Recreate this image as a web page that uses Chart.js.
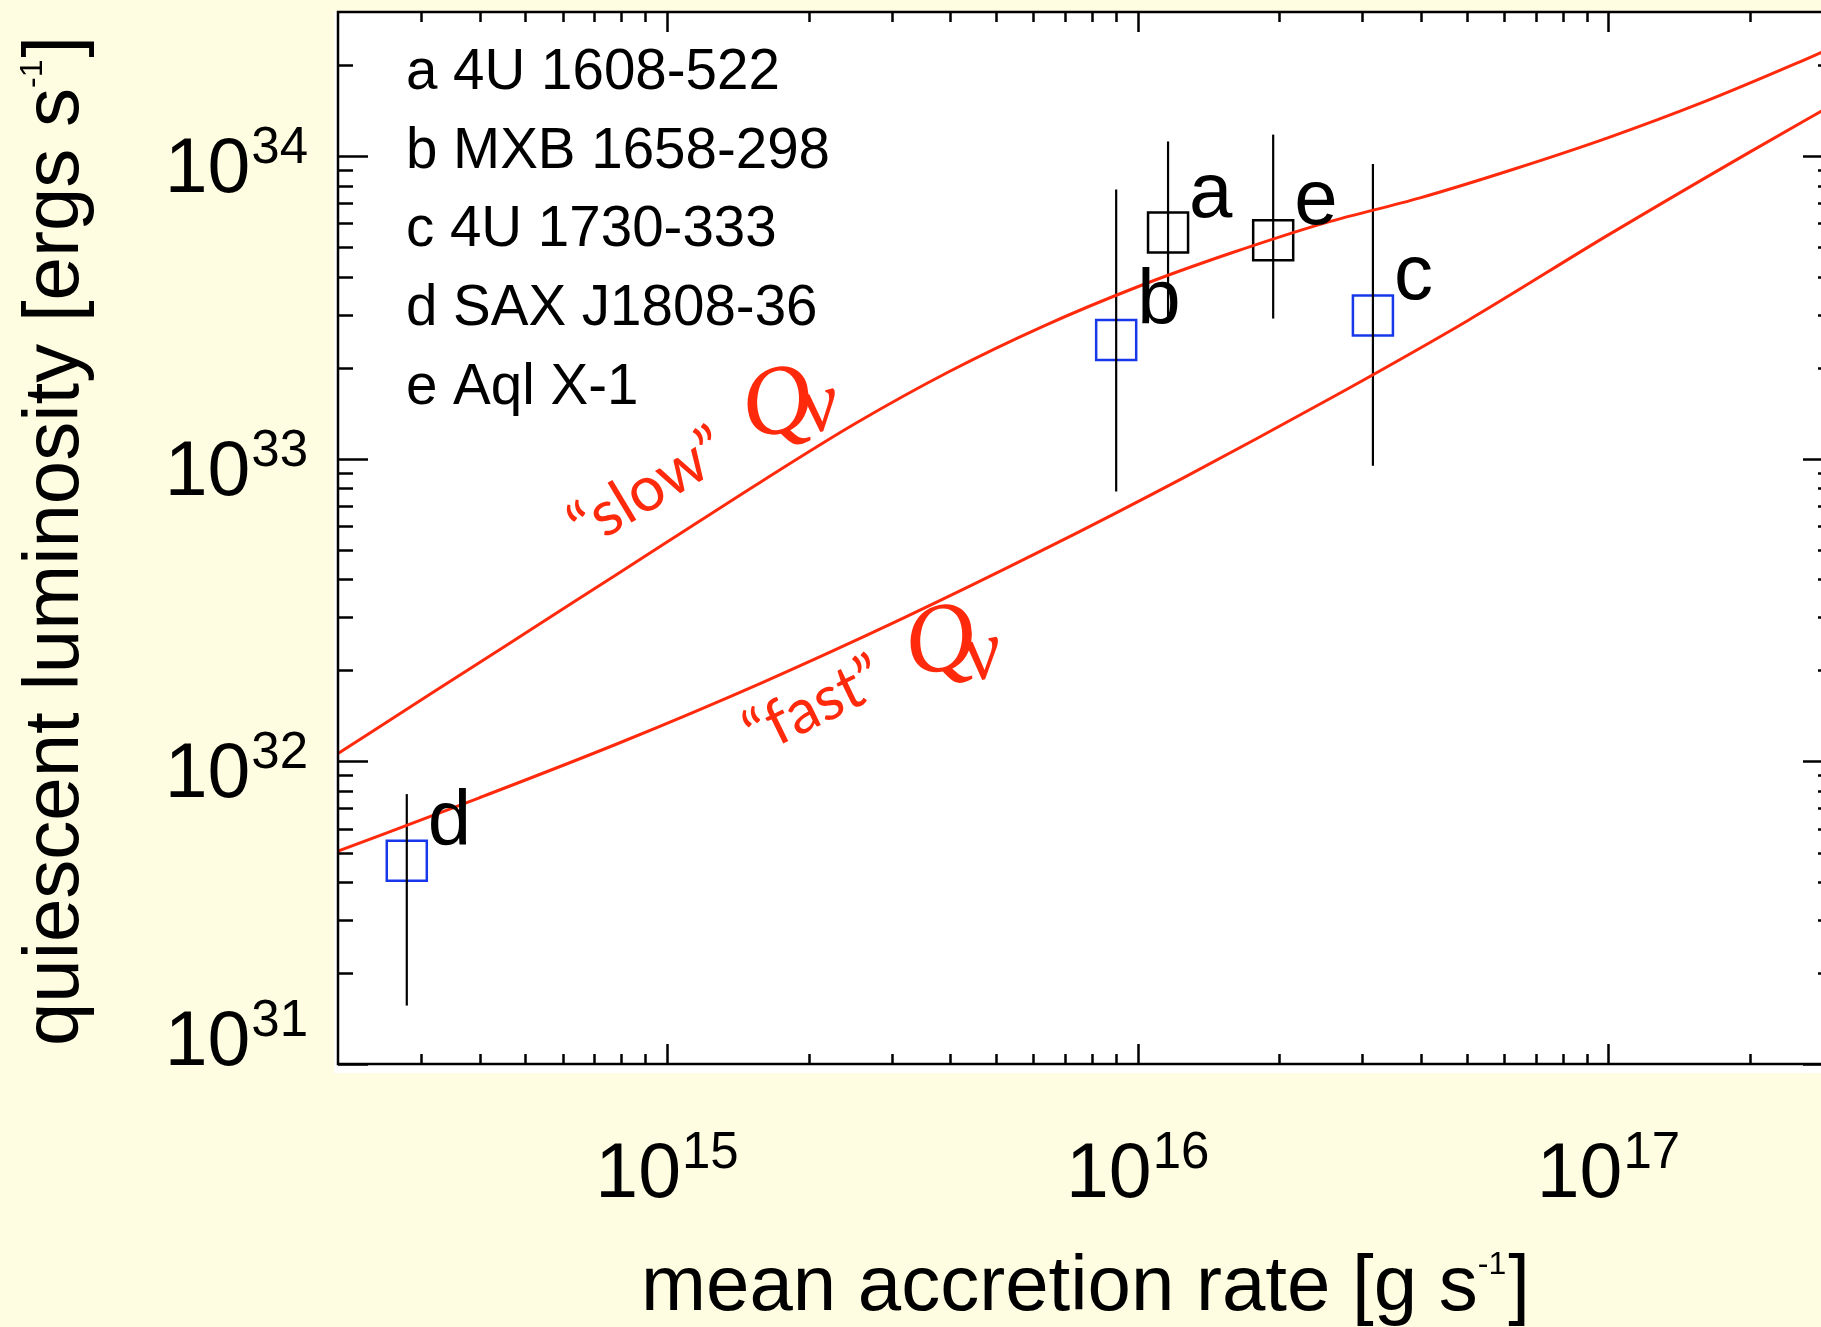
<!DOCTYPE html>
<html>
<head>
<meta charset="utf-8">
<script src="https://cdn.jsdelivr.net/npm/chart.js@4/dist/chart.umd.min.js"></script>
<style>
  html, body { margin: 0; padding: 0; overflow: hidden; background: #fffde1; }
  #wrap { position: absolute; left: 0; top: 0; width: 1850px; height: 1327px; }
</style>
</head>
<body>
<div id="wrap"><canvas id="c" width="1850" height="1327"></canvas></div>
<script>
// Cooling curves: quiescent luminosity [erg/s] vs. mean accretion rate [g/s]
const slowRate = [2.0e14, 3.16e14, 6.31e14, 1.0e15, 1.585e15, 2.512e15, 3.98e15, 6.31e15, 1.0e16, 1.585e16, 2.512e16, 3.98e16, 6.31e16, 1.0e17, 1.585e17, 2.512e17, 3.0e17];
const slowLum  = [1.062e32, 1.679e32, 3.35e32, 5.31e32, 8.41e32, 1.309e33, 1.945e33, 2.748e33, 3.707e33, 4.80e33, 6.04e33, 7.29e33, 9.08e33, 1.153e34, 1.507e34, 2.032e34, 2.296e34];

const fastRate = [2.0e14, 3.98e14, 7.94e14, 1.585e15, 3.16e15, 6.31e15, 1.259e16, 2.512e16, 5.01e16, 1.0e17, 2.0e17, 3.0e17];
const fastLum  = [5.05e31, 7.57e31, 1.153e32, 1.816e32, 2.965e32, 5.01e32, 8.71e32, 1.556e33, 2.858e33, 5.50e33, 1.035e34, 1.483e34];

// Observed transients
const srcTags  = ['a', 'b', 'c', 'd', 'e'];
const srcNames = ['4U 1608-522', 'MXB 1658-298', '4U 1730-333', 'SAX J1808-36', 'Aql X-1'];
const srcRate  = [1.16e16, 9.0e15, 3.16e16, 2.8e14, 1.94e16];
const srcLum   = [5.6e33, 2.47e33, 2.98e33, 4.7e31, 5.28e33];
const srcLumLo = [2.91e33, 7.8e32, 9.5e32, 1.56e31, 2.91e33];
const srcLumHi = [1.12e34, 7.77e33, 9.44e33, 7.8e31, 1.18e34];
const srcBlue  = [false, true, true, true, false];

// Axes
const xRange = [2e14, 3e17];
const yRange = [1e31, 3e34];
const xTickMajor = [1e15, 1e16, 1e17];
const yTickMajor = [1e31, 1e32, 1e33, 1e34];

const RED = '#ff2a0c';
const BLUE = '#1638ea';
const INK = '#000000';
const SANS = '"Liberation Sans", Arial, Helvetica, sans-serif';

function minorTicks(lo, hi) {
  const out = [];
  for (let e = Math.floor(Math.log10(lo)); e <= Math.ceil(Math.log10(hi)); e++) {
    for (let k = 2; k <= 9; k++) {
      const v = k * Math.pow(10, e);
      if (v > lo * 1.0001 && v < hi * 0.9999) out.push(v);
    }
  }
  return out;
}

// "10" with a raised exponent; align is 'center' or 'right'
function drawPower(ctx, exp, x, baseY, align) {
  ctx.font = '77px ' + SANS;
  const w1 = ctx.measureText('10').width;
  ctx.font = '51px ' + SANS;
  const w2 = ctx.measureText(String(exp)).width;
  const total = w1 + 1 + w2;
  const left = align === 'right' ? x - total : x - total / 2;
  ctx.textAlign = 'left';
  ctx.textBaseline = 'alphabetic';
  ctx.font = '77px ' + SANS;
  ctx.fillText('10', left, baseY);
  ctx.font = '51px ' + SANS;
  ctx.fillText(String(exp), left + w1 + 1, baseY - 29);
}

// Axis title with a "-1" superscript before the closing bracket
function drawTitle(ctx, main, sup, tail, cx, baseY) {
  ctx.font = '78px ' + SANS;
  const a = ctx.measureText(main).width;
  const c = ctx.measureText(tail).width;
  ctx.font = '32px ' + SANS;
  const b = ctx.measureText(sup).width;
  let x = cx - (a + b + 2 + c) / 2;
  ctx.textAlign = 'left';
  ctx.textBaseline = 'alphabetic';
  ctx.font = '78px ' + SANS;
  ctx.fillText(main, x, baseY);
  x += a;
  ctx.font = '32px ' + SANS;
  ctx.fillText(sup, x, baseY - 36);
  x += b + 2;
  ctx.font = '78px ' + SANS;
  ctx.fillText(tail, x, baseY);
}

const plotDecor = {
  id: 'plotDecor',
  beforeDraw(chart) {
    const { ctx, chartArea: a } = chart;
    ctx.save();
    ctx.fillStyle = '#fffde1';
    ctx.fillRect(0, 0, chart.width, chart.height);
    ctx.fillStyle = '#ffffff';
    ctx.fillRect(a.left - 4, a.top, a.right - a.left + 30, a.bottom - a.top + 9);
    ctx.restore();
  },
  afterDatasetsDraw(chart) {
    const { ctx, chartArea: a, scales: { x, y } } = chart;
    ctx.save();
    ctx.strokeStyle = INK;
    ctx.fillStyle = INK;
    ctx.lineWidth = 2.5;
    ctx.lineCap = 'butt';
    ctx.strokeRect(a.left, a.top, a.right - a.left, a.bottom - a.top);

    // tick marks on all four sides, pointing inward
    ctx.beginPath();
    const xt = xTickMajor.map(v => [v, 20]).concat(minorTicks(xRange[0], xRange[1]).filter(v => !xTickMajor.includes(v)).map(v => [v, 10]));
    xt.forEach(([v, len]) => {
      const px = Math.round(x.getPixelForValue(v)) + 0.5;
      ctx.moveTo(px, a.bottom); ctx.lineTo(px, a.bottom - len);
      ctx.moveTo(px, a.top); ctx.lineTo(px, a.top + len);
    });
    const yt = yTickMajor.map(v => [v, 30]).concat(minorTicks(yRange[0], yRange[1]).filter(v => !yTickMajor.includes(v)).map(v => [v, 15]));
    yt.forEach(([v, len]) => {
      const py = Math.round(y.getPixelForValue(v)) + 0.5;
      ctx.moveTo(a.left, py); ctx.lineTo(a.left + len, py);
      ctx.moveTo(a.right, py); ctx.lineTo(a.right - len, py);
    });
    ctx.stroke();

    // tick labels
    xTickMajor.forEach(v => {
      drawPower(ctx, Math.round(Math.log10(v)), x.getPixelForValue(v), a.bottom + 133, 'center');
    });
    yTickMajor.forEach(v => {
      const py = y.getPixelForValue(v);
      drawPower(ctx, Math.round(Math.log10(v)), a.left - 30, Math.min(py + 36, a.bottom + 1), 'right');
    });

    // axis titles
    drawTitle(ctx, 'mean accretion rate [g s', '-1', ']', (a.left + a.right) / 2, 1310);
    ctx.save();
    ctx.translate(78, 541);
    ctx.rotate(-Math.PI / 2);
    drawTitle(ctx, 'quiescent luminosity [ergs s', '-1', ']', 0, 0);
    ctx.restore();

    // source key
    ctx.font = '56.5px ' + SANS;
    ctx.textAlign = 'left';
    ctx.textBaseline = 'alphabetic';
    srcTags.forEach((t, i) => {
      ctx.fillText(t + ' ' + srcNames[i], 406, 89 + i * 78.7);
    });

    // tags next to each source
    ctx.font = '78px ' + SANS;
    srcTags.forEach((t, i) => {
      const px = x.getPixelForValue(srcRate[i]);
      const py = y.getPixelForValue(srcLum[i]);
      ctx.fillText(t, px + 21, py - 16);
    });

    // curve annotations
    ctx.fillStyle = RED;
    const note = (txt, cx, cy, deg, font) => {
      ctx.save();
      ctx.translate(cx, cy);
      ctx.rotate(deg * Math.PI / 180);
      ctx.font = font;
      ctx.textAlign = 'center';
      ctx.textBaseline = 'alphabetic';
      ctx.fillText(txt, 0, 0);
      ctx.restore();
    };
    const qFont = 'italic 98px "Liberation Serif", serif';
    const nuFont = 'italic 84px "Liberation Serif", serif';
    note('\u201Cslow\u201D', 659, 506, -31, '63px Lato, "Open Sans", sans-serif');
    note('Q', 784, 432, -14, qFont);
    note('\u03BD', 825, 430, -14, nuFont);
    note('\u201Cfast\u201D', 823, 724, -26, '62px Lato, "Open Sans", sans-serif');
    note('Q', 946, 670, -12, qFont);
    note('\u03BD', 987, 678, -12, nuFont);

    ctx.restore();
  }
};

const curve = (rate, lum) => rate.map((v, i) => ({ x: v, y: lum[i] }));

const datasets = [
  {
    label: 'slow',
    data: curve(slowRate, slowLum),
    showLine: true,
    borderColor: RED,
    borderWidth: 3,
    pointRadius: 0,
    cubicInterpolationMode: 'monotone'
  },
  {
    label: 'fast',
    data: curve(fastRate, fastLum),
    showLine: true,
    borderColor: RED,
    borderWidth: 3,
    pointRadius: 0,
    cubicInterpolationMode: 'monotone'
  }
];

// vertical error bars
srcTags.forEach((t, i) => {
  datasets.push({
    label: 'err ' + t,
    data: [{ x: srcRate[i], y: srcLumLo[i] }, { x: srcRate[i], y: srcLumHi[i] }],
    showLine: true,
    borderColor: INK,
    borderWidth: 2.2,
    pointRadius: 0
  });
});

// open square markers
datasets.push({
  label: 'sources',
  data: curve(srcRate, srcLum),
  showLine: false,
  pointStyle: 'rect',
  pointRadius: 28.3,
  pointBorderWidth: 2.5,
  pointBackgroundColor: 'rgba(0,0,0,0)',
  pointBorderColor: srcBlue.map(b => b ? BLUE : INK)
});

new Chart(document.getElementById('c'), {
  type: 'scatter',
  data: { datasets },
  options: {
    responsive: false,
    animation: false,
    events: [],
    layout: { autoPadding: false, padding: { left: 338, top: 12, right: 17, bottom: 263 } },
    plugins: { legend: { display: false }, tooltip: { enabled: false } },
    scales: {
      x: { type: 'logarithmic', min: xRange[0], max: xRange[1], display: false },
      y: { type: 'logarithmic', min: yRange[0], max: yRange[1], display: false }
    }
  },
  plugins: [plotDecor]
});
</script>
</body>
</html>
